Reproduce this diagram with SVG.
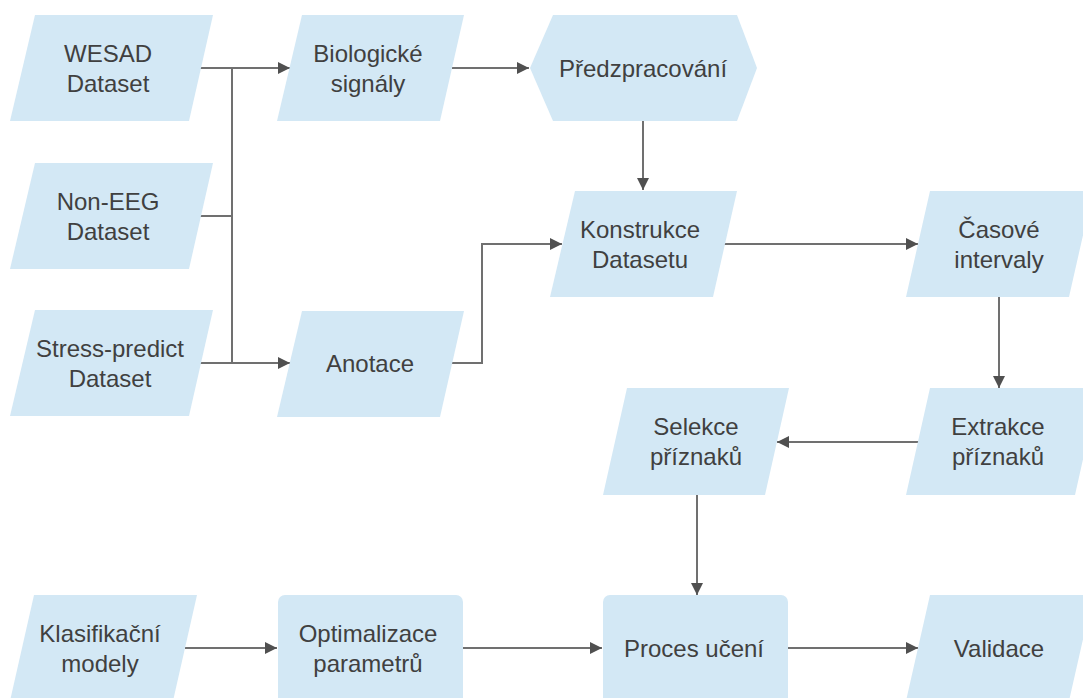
<svg xmlns="http://www.w3.org/2000/svg" width="1083" height="698" viewBox="0 0 1083 698">
  <style>
    .shape { fill: #d3e8f5; stroke: none; }
    .lbl { font-family: "Liberation Sans", Arial, sans-serif; font-size: 24px; fill: #404040; text-anchor: middle; }
    .conn { fill: none; stroke: #707070; stroke-width: 2; }
  </style>
  <defs>
    <marker id="arrow" markerUnits="userSpaceOnUse" markerWidth="13" markerHeight="12" refX="12" refY="6" orient="auto">
      <path d="M0,0 L12,6 L0,12 z" fill="#505050"/>
    </marker>
  </defs>
  <rect width="1083" height="698" fill="#ffffff"/>

  <g id="connectors">
    <path class="conn" d="M200,68 H290" marker-end="url(#arrow)"/>
    <path class="conn" d="M200,216 H232"/>
    <path class="conn" d="M232,68 V363"/>
    <path class="conn" d="M200,363 H290" marker-end="url(#arrow)"/>
    <path class="conn" d="M452,68 H529" marker-end="url(#arrow)"/>
    <path class="conn" d="M643,121 V190" marker-end="url(#arrow)"/>
    <path class="conn" d="M452,363 H482 V244 H562" marker-end="url(#arrow)"/>
    <path class="conn" d="M724,244 H918" marker-end="url(#arrow)"/>
    <path class="conn" d="M999,297 V388" marker-end="url(#arrow)"/>
    <path class="conn" d="M919,442 H777" marker-end="url(#arrow)"/>
    <path class="conn" d="M697,495 V595" marker-end="url(#arrow)"/>
    <path class="conn" d="M185,648 H277" marker-end="url(#arrow)"/>
    <path class="conn" d="M463,648 H602" marker-end="url(#arrow)"/>
    <path class="conn" d="M788,648 H918" marker-end="url(#arrow)"/>
  </g>

  <g id="wesad">
    <polygon class="shape" points="35,15 213,15 189,121 10,121"/>
    <text class="lbl" x="108" y="62">WESAD</text>
    <text class="lbl" x="108" y="92">Dataset</text>
  </g>
  <g id="noneeg">
    <polygon class="shape" points="35,163 213,163 189,269 10,269"/>
    <text class="lbl" x="108" y="210">Non-EEG</text>
    <text class="lbl" x="108" y="240">Dataset</text>
  </g>
  <g id="stress">
    <polygon class="shape" points="35,310 213,310 189,416 10,416"/>
    <text class="lbl" x="110" y="357">Stress-predict</text>
    <text class="lbl" x="110" y="387">Dataset</text>
  </g>
  <g id="bio">
    <polygon class="shape" points="302,15 464,15 440,121 277,121"/>
    <text class="lbl" x="368" y="62">Biologické</text>
    <text class="lbl" x="368" y="92">signály</text>
  </g>
  <g id="anotace">
    <polygon class="shape" points="302,311 464,311 440,417 277,417"/>
    <text class="lbl" x="370" y="372">Anotace</text>
  </g>
  <g id="predzpracovani">
    <polygon class="shape" points="530,68 553,15 737,15 757,68 737,121 553,121"/>
    <text class="lbl" x="643" y="77">Předzpracování</text>
  </g>
  <g id="konstrukce">
    <polygon class="shape" points="575,191 737,191 713,297 550,297"/>
    <text class="lbl" x="640" y="238">Konstrukce</text>
    <text class="lbl" x="640" y="268">Datasetu</text>
  </g>
  <g id="casove">
    <polygon class="shape" points="930,191 1093,191 1069,297 906,297"/>
    <text class="lbl" x="999" y="238">Časové</text>
    <text class="lbl" x="999" y="268">intervaly</text>
  </g>
  <g id="extrakce">
    <polygon class="shape" points="930,388 1099,388 1075,495 906,495"/>
    <text class="lbl" x="998" y="435">Extrakce</text>
    <text class="lbl" x="998" y="465">příznaků</text>
  </g>
  <g id="selekce">
    <polygon class="shape" points="627,388 789,388 765,495 603,495"/>
    <text class="lbl" x="696" y="435">Selekce</text>
    <text class="lbl" x="696" y="465">příznaků</text>
  </g>
  <g id="klasifikacni">
    <polygon class="shape" points="34,595 197,595 173,701 10,701"/>
    <text class="lbl" x="100" y="642">Klasifikační</text>
    <text class="lbl" x="100" y="672">modely</text>
  </g>
  <g id="optimalizace">
    <rect class="shape" x="278" y="595" width="185" height="110" rx="7"/>
    <text class="lbl" x="368" y="642">Optimalizace</text>
    <text class="lbl" x="368" y="672">parametrů</text>
  </g>
  <g id="proces">
    <rect class="shape" x="603" y="595" width="185" height="110" rx="7"/>
    <text class="lbl" x="694" y="657">Proces učení</text>
  </g>
  <g id="validace">
    <polygon class="shape" points="930,595 1093,595 1069,701 906,701"/>
    <text class="lbl" x="999" y="657">Validace</text>
  </g>
</svg>
